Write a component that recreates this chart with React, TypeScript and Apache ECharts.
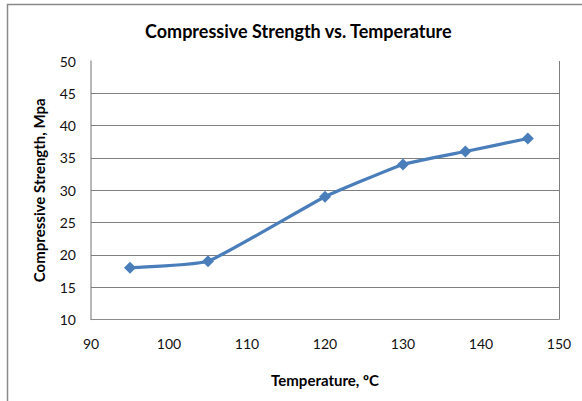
import React, { useEffect, useRef } from "react";
import * as echarts from "echarts";

const temperatures = [95, 105, 120, 130, 138, 146];
const strengths = [18, 19, 29, 34, 36, 38];
const gridValues = [15, 20, 25, 30, 35, 40, 45];
const titleText = "Compressive Strength vs. Temperature";
const xName = "Temperature, ºC";
const yName = "Compressive Strength, Mpa";

const FONT = "Lato, 'Open Sans', sans-serif";

export default function App() {
  const ref = useRef<HTMLDivElement>(null);
  useEffect(() => {
    if (!ref.current) return;
    const chart = echarts.init(ref.current, undefined, { renderer: "svg" });
    chart.setOption({
      animation: false,
      backgroundColor: "#ffffff",
      textStyle: { fontFamily: FONT },
      title: {
        text: titleText,
        left: 140,
        top: 17,
        textStyle: { fontFamily: FONT, fontSize: 18, fontWeight: "bold", color: "#000" },
      },
      graphic: [
        {
          type: "rect",
          shape: { x: 7.5, y: 4.5, width: 600, height: 420 },
          style: { fill: "none", stroke: "#8a8a8a", lineWidth: 1.5 },
          silent: true,
        },
      ],
      grid: { left: 91, right: 23, top: 61, bottom: 81.5 },
      xAxis: {
        type: "value",
        min: 90,
        max: 150,
        interval: 10,
        name: xName,
        nameLocation: "middle",
        nameGap: 53,
        nameTextStyle: { fontFamily: FONT, fontSize: 15, fontWeight: "bold", color: "#000" },
        axisLine: { show: true, lineStyle: { color: "#8c8c8c", width: 1 } },
        axisTick: { show: false },
        splitLine: { show: false },
        axisLabel: { fontFamily: FONT, fontSize: 14, color: "#111", margin: 17 },
      },
      yAxis: {
        type: "value",
        min: 10,
        max: 50,
        interval: 5,
        name: yName,
        nameLocation: "middle",
        nameGap: 45,
        nameTextStyle: { fontFamily: FONT, fontSize: 15, fontWeight: "bold", color: "#000" },
        axisLine: { show: true, lineStyle: { color: "#a0a0a0", width: 1.5 } },
        axisTick: { show: false },
        splitLine: { show: false },
        axisLabel: { fontFamily: FONT, fontSize: 14, color: "#111", margin: 15 },
      },
      series: [
        {
          type: "line",
          data: temperatures.map((t, i) => [t, strengths[i]]),
          smooth: 0.12,
          symbol: "diamond",
          symbolSize: 12,
          lineStyle: { color: "#4a7ebb", width: 3.2 },
          itemStyle: { color: "#4a7ebb" },
          z: 5,
          markLine: {
            silent: true,
            symbol: "none",
            label: { show: false },
            animation: false,
            lineStyle: { color: "#7f7f7f", width: 1, type: "solid" },
            emphasis: { disabled: true },
            data: [
              ...gridValues.map((v) => ({ yAxis: v })),
              { xAxis: 150 },
            ],
          },
        },
      ],
    });
    return () => chart.dispose();
  }, []);
  return (
    <div
      ref={ref}
      style={{ position: "fixed", left: 0, top: 0, width: 582, height: 401 }}
    />
  );
}
